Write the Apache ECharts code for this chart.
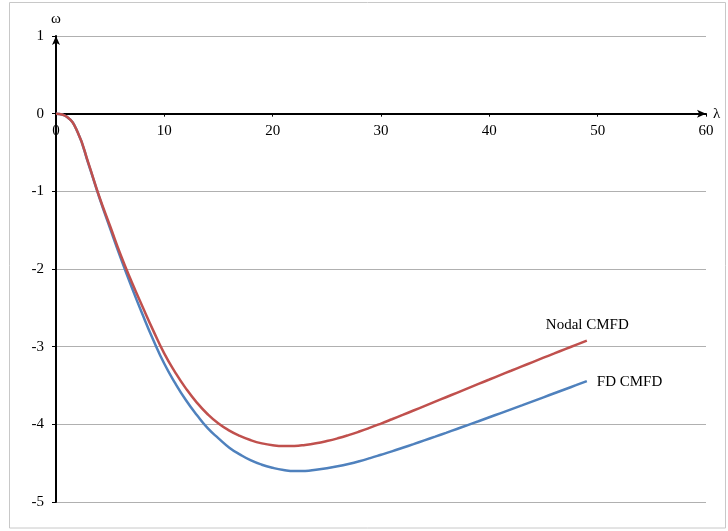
<!DOCTYPE html>
<html>
<head>
<meta charset="utf-8">
<script src="https://cdn.jsdelivr.net/npm/echarts@6/dist/echarts.min.js"></script>
<style>
html,body{margin:0;padding:0;background:#fff;}
#c{width:728px;height:531px;}
</style>
</head>
<body>
<div id="c"></div>
<script>
var lambdaX = [0, 1, 2, 3, 4, 5, 6, 7, 8, 9, 10, 11, 12, 13, 14, 15, 16, 17, 18, 19, 20, 21, 22, 23, 24, 25, 26, 27, 28, 29, 30, 31, 32, 33, 34, 35, 36, 37, 38, 39, 40, 41, 42, 43, 44, 45, 46, 47, 48, 49];
var nodalCMFD = [0, -0.04, -0.24, -0.64, -1.07, -1.45, -1.83, -2.17, -2.49, -2.80, -3.09, -3.33, -3.54, -3.72, -3.87, -3.99, -4.08, -4.15, -4.205, -4.245, -4.27, -4.28, -4.278, -4.265, -4.244, -4.215, -4.18, -4.139, -4.093, -4.043, -3.99, -3.935, -3.879, -3.822, -3.765, -3.708, -3.651, -3.594, -3.537, -3.48, -3.423, -3.366, -3.31, -3.254, -3.198, -3.142, -3.087, -3.032, -2.977, -2.922];
var fdCMFD = [0, -0.04, -0.24, -0.65, -1.08, -1.48, -1.87, -2.24, -2.59, -2.92, -3.22, -3.47, -3.69, -3.88, -4.05, -4.18, -4.30, -4.39, -4.465, -4.52, -4.56, -4.588, -4.602, -4.60, -4.585, -4.565, -4.54, -4.51, -4.475, -4.435, -4.392, -4.348, -4.302, -4.255, -4.207, -4.159, -4.11, -4.06, -4.01, -3.96, -3.909, -3.858, -3.807, -3.756, -3.704, -3.652, -3.60, -3.548, -3.496, -3.444];
var seriesNames = ['FD CMFD', 'Nodal CMFD'];
var xAxisName = 'λ';
var yAxisName = 'ω';

function pairs(xs, ys) { return xs.map(function (x, i) { return [x, ys[i]]; }); }

var font = 'Liberation Serif, Times New Roman, serif';
var chart = echarts.init(document.getElementById('c'), null, { renderer: 'canvas' });
chart.setOption({
  animation: false,
  backgroundColor: '#fff',
  graphic: [{
    type: 'rect', silent: true, z: -10,
    shape: { x: 9.5, y: 2.5, width: 716, height: 525.5 },
    style: { fill: 'none', stroke: '#c8c8c8', lineWidth: 1 }
  }],
  grid: { left: 56, right: 22, top: 36, bottom: 29 },
  xAxis: {
    type: 'value', min: 0, max: 60, interval: 10,
    name: xAxisName, nameLocation: 'end', nameGap: 7,
    nameTextStyle: { fontFamily: font, fontSize: 15, color: '#000', verticalAlign: 'middle', padding: [4, 0, 0, 0] },
    axisLine: { onZero: true, lineStyle: { color: '#000', width: 2 }, symbol: ['none', 'arrow'], symbolSize: [6, 9] },
    axisTick: { show: true, length: 3, lineStyle: { color: '#000', width: 1 } },
    axisLabel: { fontFamily: font, fontSize: 15, color: '#000', margin: -378, showMaxLabel: true },
    splitLine: { show: false }
  },
  yAxis: {
    type: 'value', min: -5, max: 1, interval: 1,
    name: yAxisName, nameLocation: 'end', nameGap: 9,
    nameTextStyle: { fontFamily: font, fontSize: 15, color: '#000', align: 'center' },
    axisLine: { show: true, onZero: false, lineStyle: { color: '#000', width: 2 }, symbol: ['none', 'arrow'], symbolSize: [6, 9] },
    axisTick: { show: true, length: 4, lineStyle: { color: '#000', width: 1 } },
    axisLabel: { fontFamily: font, fontSize: 15, color: '#000', margin: 12 },
    splitLine: { show: true, lineStyle: { color: '#b0b0b0', width: 1 } }
  },
  series: [{
    name: seriesNames[0], type: 'line', smooth: true, showSymbol: false,
    data: pairs(lambdaX, fdCMFD),
    lineStyle: { color: '#4F81BD', width: 2.5 },
    itemStyle: { color: '#4F81BD' },
    endLabel: { show: true, formatter: '{a}', fontFamily: font, fontSize: 15, color: '#000', offset: [2, 1] }
  }, {
    name: seriesNames[1], type: 'line', smooth: true, showSymbol: false,
    data: pairs(lambdaX, nodalCMFD),
    lineStyle: { color: '#C0504D', width: 2.5 },
    itemStyle: { color: '#C0504D' },
    endLabel: { show: true, formatter: '{a}', fontFamily: font, fontSize: 15, color: '#000', offset: [-49, -16] }
  }]
});
</script>
</body>
</html>
